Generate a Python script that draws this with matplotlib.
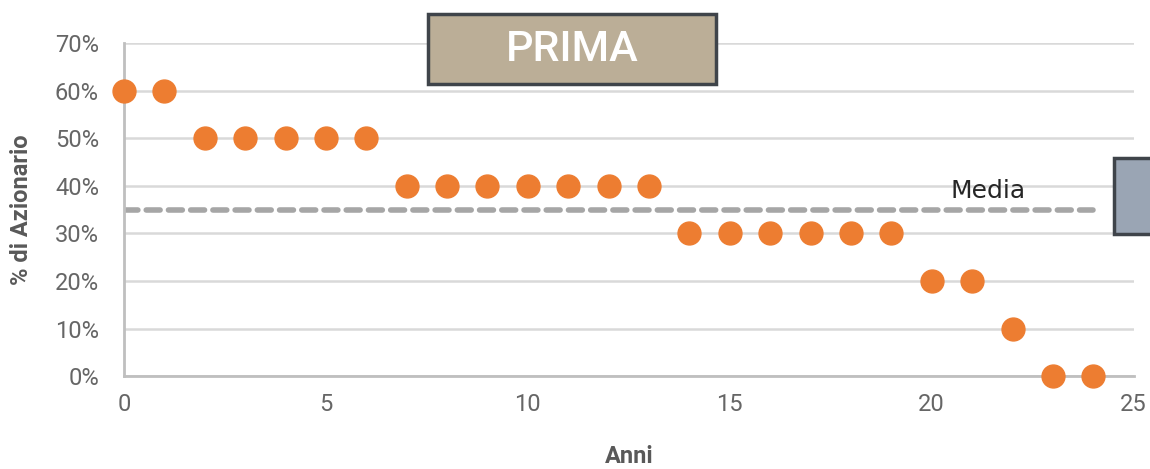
import matplotlib
matplotlib.use("Agg")
import matplotlib.pyplot as plt
from matplotlib.patches import Rectangle
from matplotlib.ticker import PercentFormatter

anni = list(range(25))
azionario = [0.60, 0.60, 0.50, 0.50, 0.50, 0.50, 0.50,
             0.40, 0.40, 0.40, 0.40, 0.40, 0.40, 0.40,
             0.30, 0.30, 0.30, 0.30, 0.30, 0.30,
             0.20, 0.20, 0.10, 0.00, 0.00]
media = 0.35
media_x = [0, 24]

fig = plt.figure(figsize=(11.5, 4.69), dpi=100)
ax = fig.add_axes([0.1078, 0.198, 0.878, 0.710])

ax.plot(media_x, [media, media], color="#A6A6A6", lw=4, ls=(0, (2.5, 1.5)),
        dash_capstyle="round", zorder=2)
ax.plot(anni, azionario, "o", color="#ED7D31", markersize=16.5, clip_on=False, zorder=3)
ax.text(21.4, 0.39, "Media", fontsize=18, color="#262626", ha="center", va="center")

ax.set_xlim(0, 25)
ax.set_ylim(0, 0.7)
ax.set_xticks([0, 5, 10, 15, 20, 25])
ax.set_yticks([i / 10 for i in range(8)])
ax.yaxis.set_major_formatter(PercentFormatter(1.0, decimals=0))
ax.grid(axis="y", color="#D9D9D9", lw=1.8)
ax.set_axisbelow(True)
for s in ["top", "right"]:
    ax.spines[s].set_visible(False)
for s in ["left", "bottom"]:
    ax.spines[s].set_color("#BFBFBF")
    ax.spines[s].set_linewidth(2)
ax.tick_params(length=0, labelsize=17, labelcolor="#666666")
ax.tick_params(axis="y", pad=18)
ax.tick_params(axis="x", pad=12)
for lab in ax.get_xticklabels() + ax.get_yticklabels():
    lab.set_family("Roboto")

ax.set_xlabel("Anni", fontsize=17, fontweight="bold", color="#595959", labelpad=21,
              family="Roboto")
ax.set_ylabel("% di Azionario", fontsize=17, fontweight="bold", color="#595959", labelpad=16,
              family="Roboto")

fig.patches.append(Rectangle((0.3722, 0.8209), 0.2504, 0.1493, transform=fig.transFigure,
                             facecolor="#BBAE97", edgecolor="#3F444A", lw=2.5))
fig.text(0.4974, 0.8955, "PRIMA", fontsize=31, color="white", ha="center", va="center",
         family="Roboto", fontweight="medium")
fig.patches.append(Rectangle((0.9687, 0.501), 0.06, 0.162, transform=fig.transFigure,
                             facecolor="#9AA5B4", edgecolor="#3F444A", lw=2.5))

fig.savefig("out.png", dpi=100)
